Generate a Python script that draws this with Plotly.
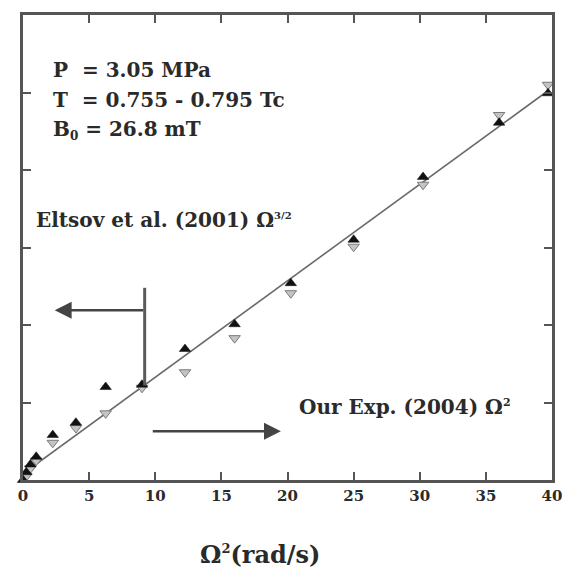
import plotly.graph_objects as go

# Data
omega2 = [0.0, 0.25, 0.56, 1.0, 2.25, 4.0, 6.25, 9.0, 12.25, 16.0, 20.25, 25.0, 30.25, 36.0, 39.7]
up_vals = [0.0, 0.10, 0.20, 0.30, 0.58, 0.74, 1.20, 1.23, 1.69, 2.01, 2.54, 3.10, 3.91, 4.61, 4.99]
omega2_dn = [0.25, 0.56, 1.0, 2.25, 4.0, 6.25, 9.0, 12.25, 16.0, 20.25, 25.0, 30.25, 36.0, 39.7]
down_vals = [0.05, 0.15, 0.25, 0.48, 0.67, 0.86, 1.19, 1.39, 1.83, 2.41, 3.01, 3.81, 4.71, 5.10]
fit_x = [0.0, 39.7]
fit_slope = 0.1245
fit_intercept = 0.08
fit_y = [fit_intercept + fit_slope * v for v in fit_x]
x_ticks = [0, 5, 10, 15, 20, 25, 30, 35, 40]

FONT = "DejaVu Serif"
TXT = "#2a2a2a"
AX = "#555555"

fig = go.Figure()
fig.add_trace(go.Scatter(x=fit_x, y=fit_y, mode="lines",
                         line=dict(color="#6a6a6a", width=1.6), showlegend=False,
                         cliponaxis=False))
fig.add_trace(go.Scatter(x=omega2_dn, y=down_vals, mode="markers",
                         marker=dict(symbol="triangle-down", size=10, color="#c4c4c4",
                                     line=dict(color="#7a7a7a", width=1)),
                         showlegend=False, cliponaxis=False))
fig.add_trace(go.Scatter(x=omega2, y=up_vals, mode="markers",
                         marker=dict(symbol="triangle-up", size=10, color="#111111",
                                     line=dict(color="#111111", width=0.5)),
                         showlegend=False, cliponaxis=False))

# Arrows
fig.add_shape(type="line", x0=9.2, x1=9.2, y0=1.22, y1=2.48, xref="x", yref="y",
              line=dict(color="#5a5a5a", width=3))
fig.add_annotation(x=2.4, y=2.19, ax=9.2, ay=2.19, xref="x", yref="y", axref="x", ayref="y",
                   text="", showarrow=True, arrowhead=2, arrowsize=1.3, arrowwidth=2.6,
                   arrowcolor="#444444")
fig.add_annotation(x=19.5, y=0.63, ax=9.7, ay=0.63, xref="x", yref="y", axref="x", ayref="y",
                   text="", showarrow=True, arrowhead=2, arrowsize=1.3, arrowwidth=2.6,
                   arrowcolor="#444444")

def label(text, x, y, size=20):
    fig.add_annotation(x=x, y=y, xref="x", yref="y", text=text, showarrow=False,
                       xanchor="left", yanchor="middle",
                       font=dict(family=FONT, size=size, color=TXT, weight="bold"))

label("P  = 3.05 MPa", 2.1, 5.29)
label("T  = 0.755 - 0.795 Tc", 2.1, 4.90)
label("B<sub><span style='font-size:12px'>0</span></sub> = 26.8 mT", 2.1, 4.52)
label("Eltsov et al. (2001) Ω<sup><span style='font-size:10px'>3/2</span></sup>", 0.85, 3.35, 20)
label("Our Exp. (2004) Ω<sup><span style='font-size:11px'>2</span></sup>", 20.7, 0.94, 20)

fig.add_annotation(x=0.448, y=-0.16, xref="paper", yref="paper",
                   text="Ω<sup><span style='font-size:13px'>2</span></sup>(rad/s)", showarrow=False,
                   xanchor="center", yanchor="middle",
                   font=dict(family=FONT, size=24, color=TXT, weight="bold"))

fig.update_xaxes(range=[0, 40], tickvals=x_ticks, ticktext=[str(v) for v in x_ticks],
                 showline=True, linecolor=AX, linewidth=3, mirror="ticks",
                 ticks="inside", ticklen=8, tickwidth=2, tickcolor=AX,
                 showgrid=False, zeroline=False,
                 tickfont=dict(family=FONT, size=15, color=TXT, weight="bold"))
fig.update_yaxes(range=[0, 6], dtick=1, showticklabels=False,
                 showline=True, linecolor=AX, linewidth=3, mirror="ticks",
                 ticks="inside", ticklen=8, tickwidth=2, tickcolor=AX,
                 showgrid=False, zeroline=False)

fig.update_layout(width=574, height=582, margin=dict(l=23, r=15, t=15, b=102),
                  plot_bgcolor="white", paper_bgcolor="white")

fig.write_html("out.html")
